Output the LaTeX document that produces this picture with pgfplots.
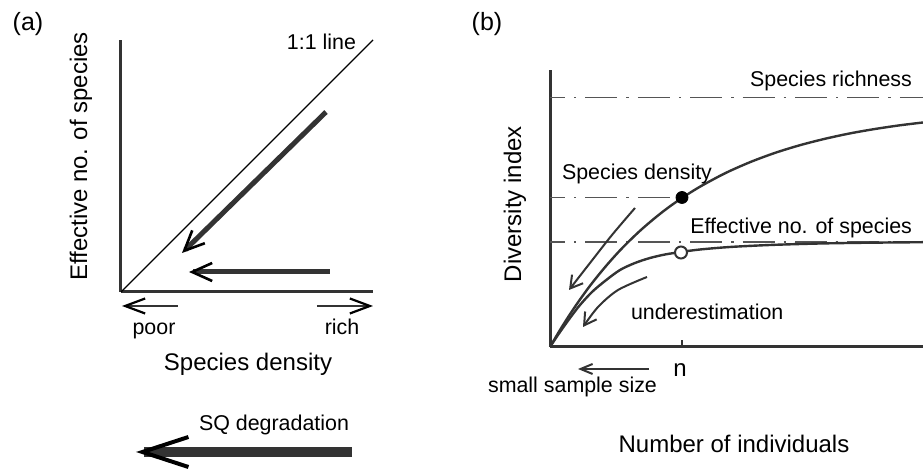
\documentclass[border=0pt]{standalone}
\usepackage{pgfplots}
\pgfplotsset{compat=1.18}
\usetikzlibrary{arrows.meta}
\usepackage{fontspec}
\setmainfont{Liberation Sans}
\definecolor{dk}{HTML}{333333}
\definecolor{dd}{HTML}{555555}
\newcommand{\lbl}{\fontsize{12}{14}\selectfont}
\newcommand{\ann}{\fontsize{10.7}{13}\selectfont}
\begin{document}
\begin{tikzpicture}
\useasboundingbox (0,0) rectangle (461.5pt,235pt);
% ---------------- panel (a)
\begin{axis}[at={(60.5pt,89pt)}, anchor=south west, scale only axis,
  width=126pt, height=126pt, xmin=0, xmax=252, ymin=0, ymax=252,
  axis lines=left, axis line style={-, line width=1.5pt, draw=dk},
  xtick=\empty, ytick=\empty, clip=false]
\addplot[black, line width=0.7pt] coordinates {(0,0) (252,252)};
\addplot[dk, line width=2.5pt, -{Straight Barb[length=10pt,width=9pt,line width=1.3pt,color=black]}] coordinates {(205,180) (61,39)};
\addplot[dk, line width=2.5pt, -{Straight Barb[length=10pt,width=9pt,line width=1.3pt,color=black]}] coordinates {(209,20) (68,20)};
\addplot[dk, line width=0.9pt, -{Straight Barb[length=10pt,width=7.5pt,line width=1.1pt,color=black]}] coordinates {(57,-14) (1,-14)};
\addplot[dk, line width=0.9pt, -{Straight Barb[length=10pt,width=7.5pt,line width=1.1pt,color=black]}] coordinates {(196,-14) (252,-14)};
\addplot[dk, line width=5pt, -{Straight Barb[length=23pt,width=15pt,line width=2pt,color=black]}] coordinates {(231,-160) (15,-160)};
\node[font=\ann, anchor=base] at (axis cs:200.5,242) {1:1 line};
\node[font=\ann, anchor=base] at (axis cs:33,-43) {poor};
\node[font=\ann, anchor=base] at (axis cs:221,-43) {rich};
\node[font=\lbl, anchor=base] at (axis cs:127,-79) {Species density};
\node[font=\ann, anchor=base] at (axis cs:153,-139) {SQ degradation};
\node[font=\lbl, rotate=90] at (axis cs:-40,135.5) {Effective no. of species};
\node[font=\fontsize{12.5}{14}\selectfont] at (axis cs:-93,268) {(a)};
\end{axis}
% ---------------- panel (b)
\begin{axis}[at={(275pt,61.5pt)}, anchor=south west, scale only axis,
  width=186.5pt, height=138.5pt, xmin=0, xmax=373, ymin=0, ymax=277,
  axis lines=left, axis line style={-, line width=1.5pt, draw=dk},
  xtick=\empty, ytick=\empty, clip=false]
\addplot[dd, line width=0.7pt, dash pattern=on 16pt off 4.5pt on 1.2pt off 4.5pt, dash phase=8.5pt] coordinates {(0,249.5) (373,249.5)};
\addplot[dd, line width=0.7pt, dash pattern=on 16pt off 4.5pt on 1.2pt off 4.5pt, dash phase=8.5pt] coordinates {(0,149.5) (132,149.5)};
\addplot[dd, line width=0.7pt, dash pattern=on 16pt off 4.5pt on 1.2pt off 4.5pt, dash phase=8.5pt] coordinates {(0,105) (373,105)};
% upper curve (species density)
\addplot[dk, line width=1.2pt, smooth] coordinates {
 (0,0) (10,17.0) (20,32.8) (30,47.5) (40,61.2) (50,73.8) (60,85.6) (70,96.6)
 (80,106.7) (90,116.2) (100,124.9) (110,133.1) (120,140.7) (133,149.7)
 (150,160.3) (175,173.7) (200,184.8) (225,194.1) (250,201.8) (275,208.2)
 (300,213.6) (325,218.0) (350,221.7) (373,224.5)};
% lower curve (effective no. of species)
\addplot[dk, line width=1.2pt, smooth] coordinates {
 (0,0) (10,15) (20,29) (30,42) (42,55) (55,66) (70,77) (85,84) (100,89)
 (115,92.5) (131,95) (150,97.5) (180,100) (220,102) (270,103.5) (320,104.3) (373,104.8)};
% curved arrows
\addplot[dk, line width=1pt, smooth, -{Straight Barb[length=6pt,width=7pt,line width=1pt]}] coordinates {(85,139) (62,112) (40,84) (19,57)};
\addplot[dk, line width=1pt, smooth, -{Straight Barb[length=6pt,width=7pt,line width=1pt]}] coordinates {(97,70) (68,57) (48,40) (33,20)};
% small sample size arrow
\addplot[dk, line width=1pt, -{Straight Barb[length=6pt,width=5pt,line width=1pt]}] coordinates {(99,-22) (28,-22)};
% tick at n
\addplot[dk, line width=1pt] coordinates {(132,0) (132,7)};
% points
\addplot[only marks, mark=*, mark size=3pt, black] coordinates {(132,149.5)};
\addplot[only marks, mark=*, mark size=3pt, draw=dk, fill=white, mark options={line width=1pt}] coordinates {(131,94.5)};
\node[font=\ann, anchor=base east] at (axis cs:369,260) {Species richness};
\node[font=\ann, anchor=base east] at (axis cs:369,113) {Effective no. of species};
\node[font=\ann, anchor=base west] at (axis cs:5,167) {Species density};
\node[font=\ann, anchor=base west] at (axis cs:74,27) {underestimation};
\node[font=\lbl, anchor=base] at (axis cs:130,-30) {n};
\node[font=\ann, anchor=base] at (axis cs:22.5,-46) {small sample size};
\node[font=\lbl, anchor=base] at (axis cs:184,-106) {Number of individuals};
\node[font=\lbl, rotate=90] at (axis cs:-35,143) {Diversity index};
\node[font=\fontsize{12.5}{14}\selectfont] at (axis cs:-63,323) {(b)};
\end{axis}
\end{tikzpicture}
\end{document}
